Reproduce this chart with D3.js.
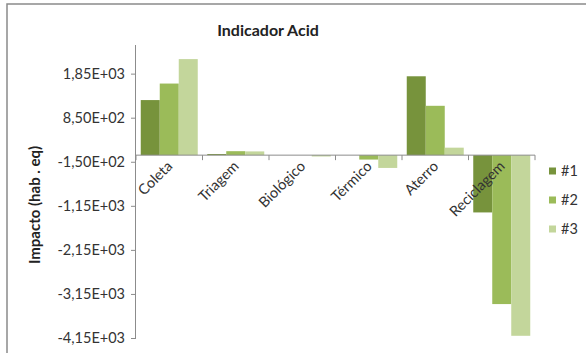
<!DOCTYPE html>
<html><head><meta charset="utf-8">
<script src="https://cdn.jsdelivr.net/npm/d3@7"></script>
<style>html,body{margin:0;padding:0;background:#fff;} svg{display:block;}</style>
</head><body>
<script>
const categories = ["Coleta", "Triagem", "Biológico", "Térmico", "Aterro", "Reciclagem"];
const seriesNames = ["#1", "#2", "#3"];
const s1 = [1250, 25, 0, 0, 1790, -1300];
const s2 = [1625, 90, 0, -100, 1120, -3380];
const s3 = [2180, 85, -30, -290, 170, -4100];
const tickValues = [1850, 850, -150, -1150, -2150, -3150, -4150];
const tickLabels = ["1,85E+03", "8,50E+02", "-1,50E+02", "-1,15E+03", "-2,15E+03", "-3,15E+03", "-4,15E+03"];
const colors = ["#77933C", "#9BBB59", "#C3D69B"];
const title = "Indicador Acid";
const yTitle = "Impacto (hab . eq)";

const W = 586, H = 353;
const svg = d3.select("body").append("svg").attr("width", W).attr("height", H);
const font = "Lato, 'Open Sans', sans-serif";
const fs = 14.5;

// outer chart border
svg.append("rect").attr("x", 7).attr("y", 4).attr("width", W + 10).attr("height", H + 10)
  .attr("fill", "#fff").attr("stroke", "#8a8a8a").attr("stroke-width", 1.5);

const plot = {left: 136, right: 535, top: 45, bottom: 338};
const y = d3.scaleLinear().domain([-4150, 2500]).range([plot.bottom, plot.top]);
const x0 = d3.scaleBand().domain(categories).range([plot.left, plot.right]).paddingInner(0).paddingOuter(0);
const x1 = d3.scaleBand().domain(seriesNames).range([0, x0.bandwidth()]).paddingInner(0).paddingOuter(0.25);

const series = [s1, s2, s3];
const data = categories.map((c, i) => ({cat: c, vals: series.map((s, k) => ({name: seriesNames[k], v: s[i], k}))}));

// bars
const g = svg.append("g");
g.selectAll("g.cat").data(data).join("g").attr("class", "cat")
  .attr("transform", d => `translate(${x0(d.cat)},0)`)
  .selectAll("rect").data(d => d.vals).join("rect")
  .attr("x", d => x1(d.name))
  .attr("width", x1.bandwidth())
  .attr("y", d => Math.min(y(d.v), y(0)))
  .attr("height", d => Math.abs(y(d.v) - y(0)))
  .attr("fill", d => colors[d.k]);

// y axis
const yAxis = d3.axisLeft(y).tickValues(tickValues).tickFormat((d, i) => tickLabels[i]).tickSize(5).tickPadding(6);
const ya = svg.append("g").attr("transform", `translate(${plot.left},0)`).call(yAxis);
ya.select(".domain").attr("stroke", "#8c8c8c").attr("d", `M-0.5,${plot.top}V${plot.bottom}`);
ya.selectAll(".tick line").attr("stroke", "#8c8c8c");
ya.selectAll(".tick text").attr("font-family", font).attr("font-size", fs).attr("fill", "#333");

// x axis at zero
const xa = svg.append("g").attr("transform", `translate(0,${y(0)})`);
xa.append("line").attr("x1", plot.left).attr("x2", plot.right).attr("stroke", "#8c8c8c");
const bounds = categories.map(c => x0(c)).concat([plot.right]);
xa.selectAll("line.tk").data(bounds).join("line").attr("class", "tk")
  .attr("x1", d => d).attr("x2", d => d).attr("y1", 0).attr("y2", 5).attr("stroke", "#8c8c8c");
xa.selectAll("text").data(categories).join("text")
  .attr("transform", d => `translate(${x0(d) + x0.bandwidth() / 2 + 4},${12}) rotate(-45)`)
  .attr("text-anchor", "end")
  .attr("font-family", font).attr("font-size", fs).attr("fill", "#333")
  .text(d => d);

// title
svg.append("text").attr("x", 268).attr("y", 36).attr("text-anchor", "middle")
  .attr("font-family", font).attr("font-weight", "bold").attr("font-size", 16).attr("fill", "#222")
  .text(title);

// y title
svg.append("text").attr("transform", `translate(40,${205}) rotate(-90)`).attr("text-anchor", "middle")
  .attr("font-family", font).attr("font-weight", "bold").attr("font-size", 15).attr("fill", "#222")
  .text(yTitle);

// legend
const lg = svg.append("g").selectAll("g").data(seriesNames).join("g")
  .attr("transform", (d, i) => `translate(549,${171 + i * 29})`);
lg.append("rect").attr("x", 0).attr("y", -3.5).attr("width", 7).attr("height", 7).attr("fill", (d, i) => colors[i]);
lg.append("text").attr("x", 12).attr("y", 0).attr("dy", "0.35em")
  .attr("font-family", font).attr("font-size", fs).attr("fill", "#333").text(d => d);
</script>
</body></html>
